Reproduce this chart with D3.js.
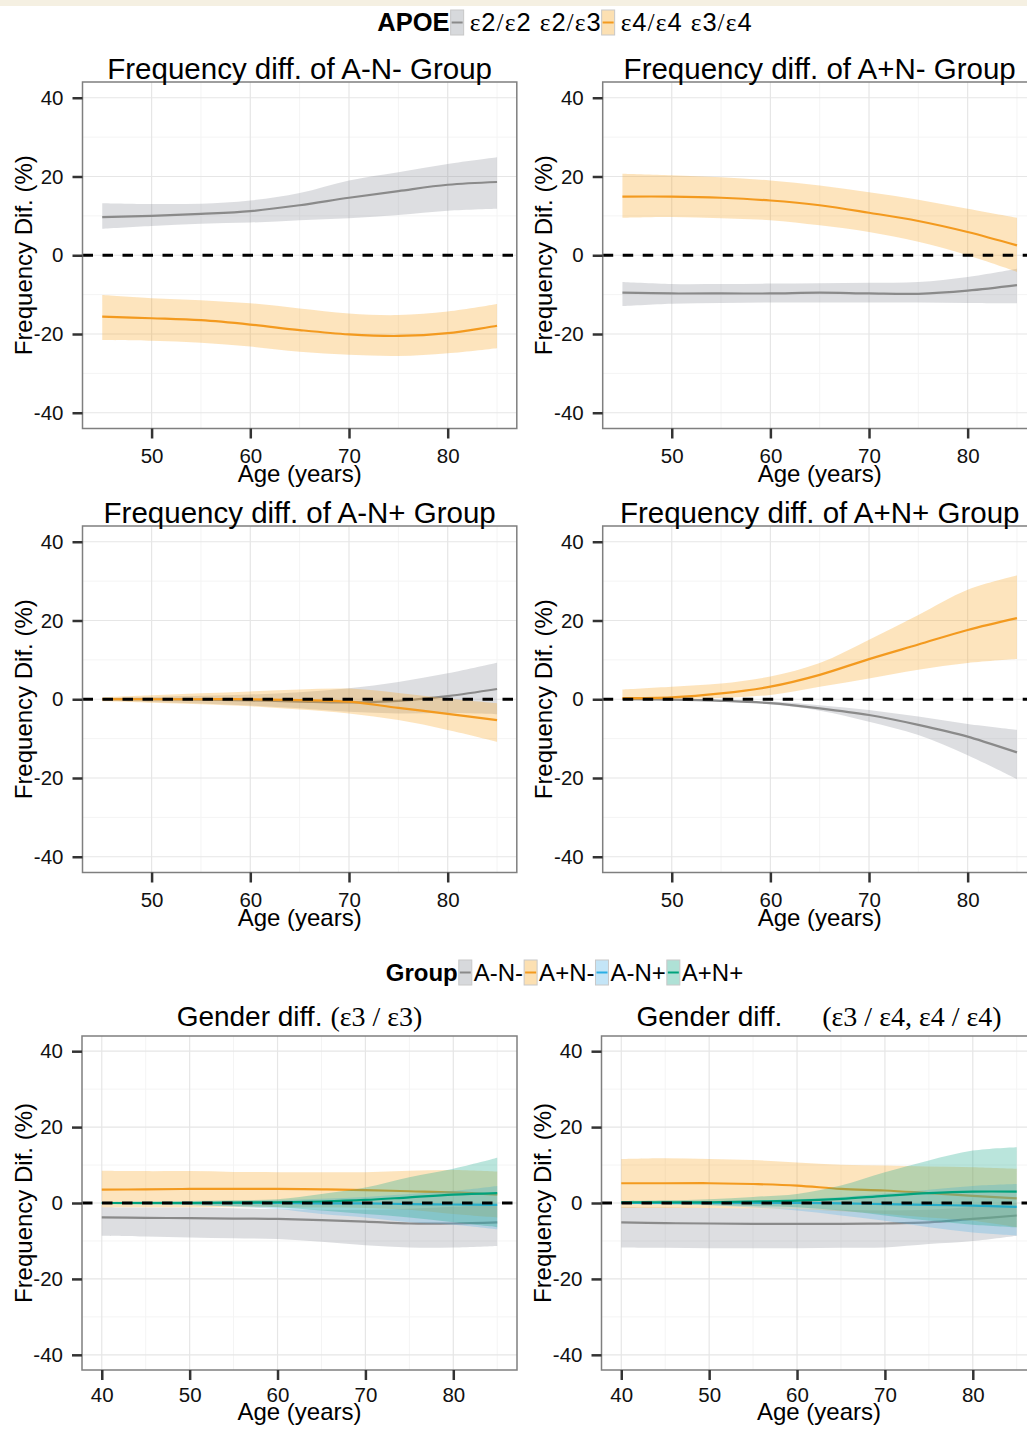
<!DOCTYPE html>
<html>
<head>
<meta charset="utf-8">
<script src="https://cdn.jsdelivr.net/npm/d3@7"></script>
<style>
  body { margin: 0; background: #fff; }
  svg { display: block; font-family: "Liberation Sans", Arial, sans-serif; }
</style>
</head>
<body>
<svg id="chart" width="1027" height="1429"></svg>
<script>
// ---- data ----
var agesTop = [45, 50, 55, 60, 65, 70, 75, 80, 85];
var agesBottom = [40, 45, 50, 55, 60, 65, 70, 75, 80, 85];
var xTicksTop = [50, 60, 70, 80];
var xTicksBottom = [40, 50, 60, 70, 80];
var yTicks = [-40, -20, 0, 20, 40];

var apoeLabels = ["ε2/ε2 ε2/ε3", "ε4/ε4 ε3/ε4"];
var groupLabels = ["A-N-", "A+N-", "A-N+", "A+N+"];

// A-N- group
var anNeg_e2_fit = [9.7, 10.0, 10.5, 11.2, 12.7, 14.6, 16.3, 17.9, 18.6];
var anNeg_e2_lo  = [6.7, 7.4, 8.0, 8.3, 8.9, 9.4, 10.2, 11.3, 11.8];
var anNeg_e2_hi  = [13.2, 13.0, 13.1, 13.9, 15.8, 19.0, 21.1, 23.2, 24.9];
var anNeg_e4_fit = [-15.6, -16.0, -16.5, -17.6, -19.0, -20.1, -20.5, -19.8, -17.9];
var anNeg_e4_lo  = [-21.5, -21.7, -22.2, -23.2, -24.5, -25.3, -25.6, -24.9, -23.6];
var anNeg_e4_hi  = [-10.1, -10.9, -11.4, -12.2, -13.5, -14.8, -15.2, -14.3, -12.4];

// A+N- group
var apNeg_e2_fit = [-9.5, -9.7, -9.7, -9.7, -9.5, -9.7, -9.8, -9.0, -7.6];
var apNeg_e2_lo  = [-12.9, -12.3, -12.1, -12.0, -12.0, -12.0, -12.0, -12.1, -12.2];
var apNeg_e2_hi  = [-6.8, -7.3, -7.3, -7.2, -7.1, -7.0, -6.8, -5.5, -3.4];
var apNeg_e4_fit = [14.9, 14.9, 14.6, 13.9, 12.7, 10.8, 8.7, 5.9, 2.5];
var apNeg_e4_lo  = [9.5, 9.7, 9.4, 8.9, 7.6, 5.9, 3.4, 0.0, -4.2];
var apNeg_e4_hi  = [20.7, 20.3, 19.8, 19.0, 17.7, 16.0, 14.1, 11.8, 9.5];

// A-N+ group
var anPos_e2_fit = [0.0, 0.0, -0.1, -0.3, -0.6, -0.8, -0.4, 0.8, 2.6];
var anPos_e2_lo  = [-0.3, -0.7, -1.1, -1.6, -2.3, -3.2, -3.6, -3.5, -3.8];
var anPos_e2_hi  = [0.3, 0.6, 0.9, 1.2, 1.8, 2.8, 4.4, 6.6, 9.3];
var anPos_e4_fit = [0.0, 0.0, 0.0, 0.0, -0.2, -0.6, -2.2, -3.7, -5.3];
var anPos_e4_lo  = [-0.5, -0.9, -1.3, -1.8, -2.6, -3.6, -5.3, -7.8, -10.8];
var anPos_e4_hi  = [0.5, 1.0, 1.5, 2.0, 2.5, 2.7, 1.6, 0.2, -1.0];

// A+N+ group
var apPos_e2_fit = [0.0, -0.1, -0.4, -1.0, -2.3, -4.0, -6.5, -9.5, -13.5];
var apPos_e2_lo  = [-0.3, -0.3, -0.6, -1.3, -2.9, -5.7, -9.1, -14.2, -20.3];
var apPos_e2_hi  = [0.2, 0.0, -0.2, -0.6, -1.5, -2.7, -4.4, -6.3, -7.8];
var apPos_e4_fit = [0.3, 0.5, 1.5, 3.2, 6.2, 10.2, 13.9, 17.6, 20.6];
var apPos_e4_lo  = [-0.2, 0.0, 0.3, 1.1, 3.2, 5.3, 7.5, 9.2, 10.2];
var apPos_e4_hi  = [2.5, 3.2, 4.0, 5.8, 9.2, 15.1, 21.4, 27.8, 31.4];

// gender diff, e3/e3
var g33_anNeg_fit = [-3.8, -3.9, -4.0, -4.1, -4.2, -4.5, -4.9, -5.4, -5.4, -5.1];
var g33_anNeg_lo  = [-8.6, -8.8, -9.1, -9.3, -9.5, -10.2, -11.1, -11.7, -11.7, -11.3];
var g33_anNeg_hi  = [-1.1, -1.2, -1.2, -1.4, -1.6, -1.8, -1.8, -1.5, -1.0, -0.5];
var g33_apNeg_fit = [3.5, 3.6, 3.7, 3.7, 3.7, 3.6, 3.4, 3.1, 2.8, 2.2];
var g33_apNeg_lo  = [-1.1, -1.1, -1.1, -1.1, -1.1, -1.2, -1.3, -1.8, -2.9, -3.8];
var g33_apNeg_hi  = [8.5, 8.4, 8.4, 8.2, 8.1, 8.1, 8.1, 8.5, 8.7, 8.3];
var g33_anPos_fit = [0.0, 0.0, 0.0, 0.0, 0.0, -0.1, -0.1, -0.3, -0.4, -0.5];
var g33_anPos_lo  = [-0.2, -0.4, -0.5, -1.0, -1.6, -2.9, -3.8, -5.1, -5.7, -6.9];
var g33_anPos_hi  = [0.2, 0.3, 0.4, 0.5, 0.7, 1.1, 1.6, 2.4, 3.2, 4.5];
var g33_apPos_fit = [0.0, 0.0, 0.0, 0.1, 0.2, 0.4, 0.8, 1.5, 2.2, 2.6];
var g33_apPos_lo  = [-0.3, -0.4, -0.5, -0.8, -1.1, -2.0, -2.9, -3.8, -5.1, -6.4];
var g33_apPos_hi  = [0.3, 0.4, 0.5, 0.7, 1.0, 2.4, 4.1, 6.8, 9.0, 11.9];

// gender diff, e3/e4 + e4/e4
var g34_anNeg_fit = [-5.1, -5.3, -5.4, -5.5, -5.5, -5.5, -5.4, -5.1, -4.2, -3.3];
var g34_anNeg_lo  = [-11.7, -11.8, -11.9, -11.9, -11.9, -11.8, -11.7, -10.8, -10.0, -8.6];
var g34_anNeg_hi  = [-1.1, -1.2, -1.3, -1.4, -1.6, -1.8, -2.0, -1.8, -1.0, 0.0];
var g34_apNeg_fit = [5.2, 5.2, 5.2, 5.0, 4.6, 3.7, 3.3, 2.6, 1.9, 1.2];
var g34_apNeg_lo  = [-1.3, -1.3, -1.3, -1.4, -1.6, -2.2, -2.9, -3.8, -4.7, -6.4];
var g34_apNeg_hi  = [11.6, 11.8, 11.6, 11.3, 10.7, 10.1, 9.9, 9.6, 9.4, 9.0];
var g34_anPos_fit = [0.0, 0.0, 0.0, 0.0, 0.0, -0.1, -0.3, -0.5, -0.7, -1.0];
var g34_anPos_lo  = [-0.3, -0.4, -0.6, -1.2, -2.0, -3.3, -4.7, -6.4, -7.8, -8.6];
var g34_anPos_hi  = [0.3, 0.4, 0.5, 0.7, 1.0, 1.6, 2.5, 3.5, 4.5, 5.0];
var g34_apPos_fit = [0.2, 0.2, 0.2, 0.4, 0.6, 1.1, 1.9, 2.6, 3.0, 3.0];
var g34_apPos_lo  = [-0.2, -0.3, -0.5, -0.8, -1.1, -2.0, -3.3, -4.7, -5.7, -6.4];
var g34_apPos_hi  = [0.5, 0.7, 1.0, 1.6, 2.4, 4.6, 8.1, 11.2, 13.8, 14.7];

// ---- colours ----
var lineColor = { gray: "#8a8a8a", orange: "#F39A1F", blue: "#2AAEE4", green: "#00A27C" };
var fillColor = { gray: "#8E939B", orange: "#F7A623", blue: "#56B4E9", green: "#1AA88A" };
var ribbonAlpha = 0.3;

function s(c, fit, lo, hi) { return { c: c, fit: fit, lo: lo, hi: hi }; }

var panels = [
  { title: "Frequency diff. of A-N- Group", x0: 82.5, x1: 516.8, y0: 82, y1: 428.5, ages: agesTop, xDom: [43, 87], xTicks: xTicksTop,
    series: [s("gray", anNeg_e2_fit, anNeg_e2_lo, anNeg_e2_hi), s("orange", anNeg_e4_fit, anNeg_e4_lo, anNeg_e4_hi)] },
  { title: "Frequency diff. of A+N- Group", x0: 602.7, x1: 1036.7, y0: 82, y1: 428.5, ages: agesTop, xDom: [43, 87], xTicks: xTicksTop,
    series: [s("gray", apNeg_e2_fit, apNeg_e2_lo, apNeg_e2_hi), s("orange", apNeg_e4_fit, apNeg_e4_lo, apNeg_e4_hi)] },
  { title: "Frequency diff. of A-N+ Group", x0: 82.5, x1: 516.8, y0: 526, y1: 872.5, ages: agesTop, xDom: [43, 87], xTicks: xTicksTop,
    series: [s("gray", anPos_e2_fit, anPos_e2_lo, anPos_e2_hi), s("orange", anPos_e4_fit, anPos_e4_lo, anPos_e4_hi)] },
  { title: "Frequency diff. of A+N+ Group", x0: 602.7, x1: 1036.7, y0: 526, y1: 872.5, ages: agesTop, xDom: [43, 87], xTicks: xTicksTop,
    series: [s("gray", apPos_e2_fit, apPos_e2_lo, apPos_e2_hi), s("orange", apPos_e4_fit, apPos_e4_lo, apPos_e4_hi)] },
  { title: "Gender diff.", genotype: "(ε3 / ε3)", gap: 8, x0: 82, x1: 517, y0: 1036, y1: 1370, ages: agesBottom, xDom: [37.75, 87.25], xTicks: xTicksBottom,
    series: [s("gray", g33_anNeg_fit, g33_anNeg_lo, g33_anNeg_hi), s("orange", g33_apNeg_fit, g33_apNeg_lo, g33_apNeg_hi),
             s("blue", g33_anPos_fit, g33_anPos_lo, g33_anPos_hi), s("green", g33_apPos_fit, g33_apPos_lo, g33_apPos_hi)] },
  { title: "Gender diff.", genotype: "(ε3 / ε4, ε4 / ε4)", gap: 40, x0: 601.5, x1: 1036.5, y0: 1036, y1: 1370, ages: agesBottom, xDom: [37.75, 87.25], xTicks: xTicksBottom,
    series: [s("gray", g34_anNeg_fit, g34_anNeg_lo, g34_anNeg_hi), s("orange", g34_apNeg_fit, g34_apNeg_lo, g34_apNeg_hi),
             s("blue", g34_anPos_fit, g34_anPos_lo, g34_anPos_hi), s("green", g34_apPos_fit, g34_apPos_lo, g34_apPos_hi)] }
];

var svg = d3.select("#chart");

// pale strip along the top edge
svg.append("rect").attr("x", 0).attr("y", 0).attr("width", 1027).attr("height", 6).attr("fill", "#F5F0E2");

// write text where greek / slashes use a serif face
function mixedText(sel, str, serifAll) {
  var runs = [];
  str.split("").forEach(function (ch) {
    var serif = serifAll || "ε/(),".indexOf(ch) >= 0;
    if (runs.length && runs[runs.length - 1].serif === serif) runs[runs.length - 1].t += ch;
    else runs.push({ t: ch, serif: serif });
  });
  runs.forEach(function (r) {
    sel.append("tspan")
      .attr("font-family", r.serif ? "'Liberation Serif', 'DejaVu Serif', serif" : null)
      .text(r.t);
  });
}

panels.forEach(function (p) {
  var g = svg.append("g");
  var x = d3.scaleLinear().domain(p.xDom).range([p.x0, p.x1]);
  var y = d3.scaleLinear().domain([-44, 44]).range([p.y1, p.y0]);
  var isBottom = !!p.genotype;

  // grid
  var xMinor = p.xTicks.map(function (t) { return t + 5; });
  var yMinor = [-30, -10, 10, 30];
  g.selectAll(".xmin").data(xMinor).enter().append("line")
    .attr("x1", x).attr("x2", x).attr("y1", p.y0).attr("y2", p.y1)
    .attr("stroke", "#F4F4F4").attr("stroke-width", 1);
  g.selectAll(".ymin").data(yMinor).enter().append("line")
    .attr("x1", p.x0).attr("x2", p.x1).attr("y1", y).attr("y2", y)
    .attr("stroke", "#F4F4F4").attr("stroke-width", 1);
  g.selectAll(".xmaj").data(p.xTicks).enter().append("line")
    .attr("x1", x).attr("x2", x).attr("y1", p.y0).attr("y2", p.y1)
    .attr("stroke", "#E6E6E6").attr("stroke-width", 1.2);
  g.selectAll(".ymaj").data(yTicks).enter().append("line")
    .attr("x1", p.x0).attr("x2", p.x1).attr("y1", y).attr("y2", y)
    .attr("stroke", "#E6E6E6").attr("stroke-width", 1.2);

  // smooths: ribbon then line, group by group
  p.series.forEach(function (sr) {
    var pts = p.ages.map(function (a, i) { return { a: a, fit: sr.fit[i], lo: sr.lo[i], hi: sr.hi[i] }; });
    var area = d3.area().x(function (d) { return x(d.a); })
      .y0(function (d) { return y(d.lo); }).y1(function (d) { return y(d.hi); })
      .curve(d3.curveCatmullRom.alpha(0.5));
    var line = d3.line().x(function (d) { return x(d.a); }).y(function (d) { return y(d.fit); })
      .curve(d3.curveCatmullRom.alpha(0.5));
    g.append("path").attr("d", area(pts)).attr("fill", fillColor[sr.c]).attr("fill-opacity", ribbonAlpha);
    g.append("path").attr("d", line(pts)).attr("fill", "none")
      .attr("stroke", lineColor[sr.c]).attr("stroke-width", 2.2);
  });

  // zero reference
  g.append("line").attr("x1", p.x0).attr("x2", p.x1).attr("y1", y(0)).attr("y2", y(0))
    .attr("stroke", "#000").attr("stroke-width", 3).attr("stroke-dasharray", "10.5,9.5");

  // border
  g.append("rect").attr("x", p.x0).attr("y", p.y0).attr("width", p.x1 - p.x0).attr("height", p.y1 - p.y0)
    .attr("fill", "none").attr("stroke", "#7f7f7f").attr("stroke-width", 1.5);

  // axes
  var ya = g.append("g").attr("transform", "translate(" + p.x0 + ",0)")
    .call(d3.axisLeft(y).tickValues(yTicks).tickSize(10).tickPadding(9).tickFormat(function (d) { return String(d); }));
  var xa = g.append("g").attr("transform", "translate(0," + p.y1 + ")")
    .call(d3.axisBottom(x).tickValues(p.xTicks).tickSize(10).tickPadding(isBottom ? 7.5 : 10).tickFormat(function (d) { return String(d); }));
  [ya, xa].forEach(function (a) {
    a.select(".domain").remove();
    a.selectAll(".tick line").attr("stroke", "#333").attr("stroke-width", 2.5);
    a.selectAll("text").attr("font-size", 20.5).attr("fill", "#111").attr("font-family", "'Liberation Sans', Arial, sans-serif");
  });

  // axis titles
  g.append("text").attr("x", (p.x0 + p.x1) / 2).attr("y", p.y1 + (isBottom ? 50 : 53.5))
    .attr("text-anchor", "middle").attr("font-size", 24).text("Age (years)");
  g.append("text").attr("transform", "translate(" + (p.x0 - 50.5) + "," + ((p.y0 + p.y1) / 2) + ") rotate(-90)")
    .attr("text-anchor", "middle").attr("font-size", 24).text("Frequency Dif. (%)");

  // panel title
  var t = g.append("text").attr("x", (p.x0 + p.x1) / 2).attr("y", p.y0 - (isBottom ? 10 : 3))
    .attr("text-anchor", "middle").attr("font-size", isBottom ? 28 : 29.5);
  if (isBottom) {
    t.append("tspan").text(p.title);
    var gt = t.append("tspan").attr("dx", p.gap);
    mixedText(gt, p.genotype, true);
  } else {
    t.text(p.title);
  }
});

// ---- legends ----
function drawLegend(title, labels, colors, cx, base, fs, labelWidth) {
  var g = svg.append("g");
  var cur = 0;
  var tt = g.append("text").attr("x", cur).attr("y", base).attr("font-size", fs).attr("font-weight", "bold").text(title);
  cur += tt.node().getComputedTextLength() + 1;
  labels.forEach(function (lab, i) {
    var c = colors[i];
    g.append("rect").attr("x", cur).attr("y", base - 21).attr("width", 13).attr("height", 25)
      .attr("fill", d3.interpolateRgb("#ffffff", fillColor[c])(ribbonAlpha + 0.05))
      .attr("stroke", "#c8c8c8").attr("stroke-width", 1);
    g.append("line").attr("x1", cur + 1).attr("x2", cur + 12).attr("y1", base - 8.5).attr("y2", base - 8.5)
      .attr("stroke", lineColor[c]).attr("stroke-width", 2);
    cur += labelWidth ? 19 : 15;
    var lt = g.append("text").attr("x", cur).attr("y", base).attr("font-size", fs);
    mixedText(lt, lab, false);
    if (labelWidth) lt.attr("textLength", labelWidth).attr("lengthAdjust", "spacing");
    cur += (labelWidth || lt.node().getComputedTextLength()) + 1;
  });
  g.attr("transform", "translate(" + (cx - cur / 2) + ",0)");
}

drawLegend("APOE", apoeLabels, ["gray", "orange"], 565, 31, 25.5, 131);
drawLegend("Group", groupLabels, ["gray", "orange", "blue", "green"], 565, 981, 24, 0);
</script>
</body>
</html>
